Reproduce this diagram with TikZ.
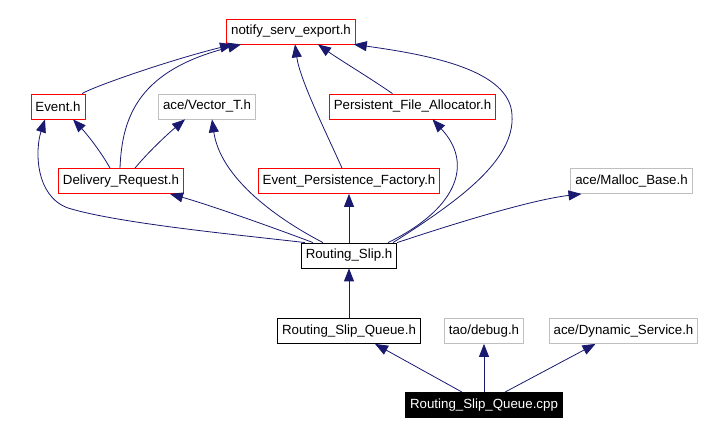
\documentclass[tikz,border=0pt]{standalone}
\usepackage{fontspec}
\setmainfont{Liberation Sans}
\usetikzlibrary{arrows.meta}
\definecolor{edgeblue}{RGB}{25,25,112}
\definecolor{boxred}{RGB}{255,0,0}
\definecolor{boxgray}{RGB}{191,191,191}
\tikzset{>={Triangle[length=13pt,width=10pt]}}
\tikzset{
    file/.style = {draw, line width=0.8pt, minimum height=25pt, inner xsep=4.5pt, inner ysep=0pt,
                   font=\fontsize{13.3}{15}\selectfont},
    redfile/.style = {file, draw=boxred},
    grayfile/.style = {file, draw=boxgray},
    plainfile/.style = {file, draw=black},
    mainfile/.style = {file, draw=black, fill=black, text=white},
    include/.style = {edgeblue, line width=0.8pt, ->}
}

\begin{document}
\begin{tikzpicture}[x=1pt, y=-1pt]
            \useasboundingbox (0, 0) rectangle (706, 435);
            \node[redfile] (notify) at (291, 31.5) {notify\_serv\_export.h};
            \node[redfile] (event) at (58, 106.5) {Event.h};
            \node[grayfile] (vector) at (207, 106.5) {ace/Vector\_T.h};
            \node[redfile] (alloc) at (412.5, 106.5) {Persistent\_File\_Allocator.h};
            \node[redfile] (request) at (121, 181) {Delivery\_Request.h};
            \node[redfile] (factory) at (349, 181) {Event\_Persistence\_Factory.h};
            \node[grayfile] (malloc) at (631.5, 181) {ace/Malloc\_Base.h};
            \node[plainfile] (slip) at (349, 255.5) {Routing\_Slip.h};
            \node[plainfile] (queue) at (349, 331) {Routing\_Slip\_Queue.h};
            \node[grayfile] (debug) at (484, 331) {tao/debug.h};
            \node[grayfile] (dynamic) at (623.5, 331) {ace/Dynamic\_Service.h};
            \node[mainfile] (cpp) at (484, 405) {Routing\_Slip\_Queue.cpp};

            \draw[include] ([xshift=24pt]event.north) .. controls (95, 86) and (170, 60) .. ([xshift=-58pt]notify.south);
            \draw[include] ([xshift=-1pt]request.north) .. controls (122, 115) and (140, 70) .. ([xshift=-50pt]notify.south);
            \draw[include] ([xshift=-11pt]request.north) .. controls (100, 150) and (85, 132) .. ([xshift=15pt]event.south);
            \draw[include] ([xshift=14pt]request.north) .. controls (150, 150) and (170, 132) .. ([xshift=-22pt]vector.south);
            \draw[include] ([xshift=-7pt]factory.north) .. controls (325, 130) and (300, 80) .. ([xshift=4pt]notify.south);
            \draw[include] ([xshift=-20pt]alloc.north) .. controls (370, 78) and (340, 60) .. ([xshift=27pt]notify.south);
            \draw[include] ([xshift=44pt]slip.north) .. controls (460, 200) and (515, 160) .. (512, 115)
                .. controls (510, 70) and (430, 55) .. ([xshift=-2pt]notify.south east);
            \draw[include] ([xshift=-44pt]slip.north) .. controls (250, 236) and (120, 224) .. (68, 208)
                .. controls (35, 196) and (35, 150) .. ([xshift=-13pt]event.south);
            \draw[include] ([xshift=-26pt]slip.north) .. controls (270, 215) and (220, 175) .. ([xshift=5pt]vector.south);
            \draw[include] ([xshift=-36pt]slip.north) .. controls (280, 230) and (210, 205) .. ([xshift=49pt]request.south);
            \draw[include] (slip.north) -- (factory.south);
            \draw[include] ([xshift=39pt]slip.north) .. controls (455, 210) and (475, 165) .. ([xshift=20pt]alloc.south);
            \draw[include] (slip.north east) .. controls (450, 225) and (530, 200) .. ([xshift=-50pt]malloc.south);
            \draw[include] (queue.north) -- (slip.south);
            \draw[include] ([xshift=-22pt]cpp.north) -- ([xshift=26pt]queue.south);
            \draw[include] (cpp.north) -- (debug.south);
            \draw[include] ([xshift=21pt]cpp.north) -- ([xshift=-28pt]dynamic.south);
        \end{tikzpicture}
\end{document}
